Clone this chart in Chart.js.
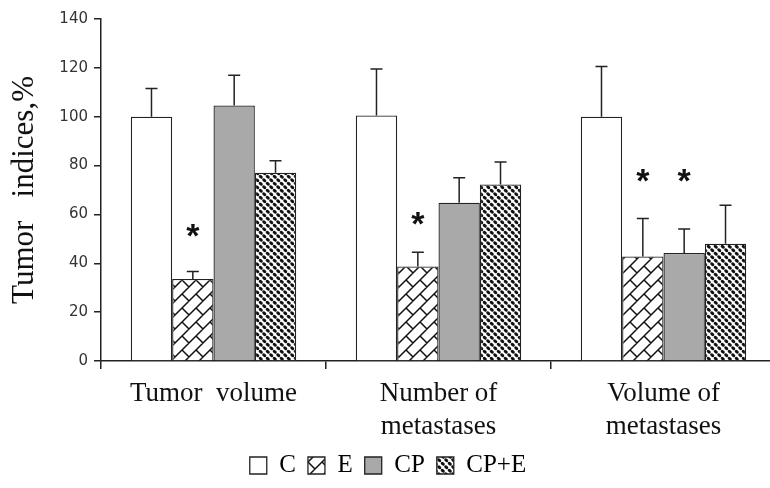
<!DOCTYPE html>
<html>
<head>
<meta charset="utf-8">
<script src="https://cdn.jsdelivr.net/npm/chart.js@4.4.1/dist/chart.umd.min.js"></script>
<style>
html,body{margin:0;padding:0;background:#fff;overflow:hidden;}
#wrap{width:780px;height:488px;}
</style>
</head>
<body>
<div id="wrap"><canvas id="c" width="780" height="488"></canvas></div>
<script>
// ---- data ----
const categories = [["Tumor  volume"], ["Number of", "metastases"], ["Volume of", "metastases"]];
const seriesNames = ["C", "E", "CP", "CP+E"];
const valuesC   = [100, 100.5, 100];
const valuesE   = [33.6, 38.7, 42.8];
const valuesCP  = [104.6, 64.8, 44.2];
const valuesCPE = [77.1, 72.3, 48.0];
const errC   = [11.5, 19, 20.6];
const errE   = [3, 5.8, 15.5];
const errCP  = [12.4, 10.2, 9.8];
const errCPE = [4.9, 9.2, 15.8];
const starsE  = [52, 57, 74.8];
const starsCP = [null, null, 74.8];
const yTicks = [0, 20, 40, 60, 80, 100, 120, 140];

// ---- patterns ----
function brickPattern() {
  const T = 14, h = T / Math.SQRT2;
  const c = document.createElement('canvas'); c.width = T; c.height = T;
  const x = c.getContext('2d');
  x.fillStyle = '#fff'; x.fillRect(0, 0, T, T);
  x.strokeStyle = '#111'; x.lineWidth = 1.5;
  x.translate(0, T);
  x.rotate(-Math.PI / 4);
  x.beginPath();
  for (let k = -10; k <= 10; k++) {
    x.moveTo(-100, k * h); x.lineTo(100, k * h);
    for (let j = -10; j <= 10; j++) {
      const xx = j * 2 * h + ((k % 2 + 2) % 2 ? h : 0);
      x.moveTo(xx, k * h); x.lineTo(xx, (k + 1) * h);
    }
  }
  x.stroke();
  return x.createPattern(c, 'repeat');
}
function dotPattern() {
  const T = 7;
  const c = document.createElement('canvas'); c.width = T; c.height = T;
  const x = c.getContext('2d');
  x.fillStyle = '#fff'; x.fillRect(0, 0, T, T);
  x.fillStyle = '#111';
  const blobs = [[1.75, 1.75], [5.25, 5.25]];
  for (const [bx, by] of blobs) {
    for (const dx of [-T, 0, T]) for (const dy of [-T, 0, T]) {
      x.beginPath(); x.ellipse(bx + dx, by + dy, 2.2, 1.5, 0.7, 0, Math.PI * 2); x.fill();
    }
  }
  return x.createPattern(c, 'repeat');
}
const fills = ['#ffffff', brickPattern(), '#a9a9a9', dotPattern()];

const errs = [errC, errE, errCP, errCPE];
const stars = [null, starsE, starsCP, null];

const errorBarPlugin = {
  id: 'errbars',
  afterDatasetsDraw(chart) {
    const ctx = chart.ctx, ys = chart.scales.y;
    ctx.save();
    chart.data.datasets.forEach((ds, di) => {
      const meta = chart.getDatasetMeta(di);
      meta.data.forEach((bar, i) => {
        const v = ds.data[i], e = errs[di][i];
        const y0 = ys.getPixelForValue(v), y1 = ys.getPixelForValue(v + e);
        ctx.strokeStyle = '#222'; ctx.lineWidth = 1.5;
        ctx.beginPath();
        ctx.moveTo(bar.x, y0); ctx.lineTo(bar.x, y1);
        ctx.moveTo(bar.x - 6, y1); ctx.lineTo(bar.x + 6, y1);
        ctx.stroke();
        const s = stars[di] && stars[di][i];
        if (s != null) {
          ctx.fillStyle = '#111';
          ctx.font = 'bold 34px "Liberation Sans"';
          ctx.textAlign = 'center'; ctx.textBaseline = 'middle';
          ctx.fillText('*', bar.x, ys.getPixelForValue(s) + 4);
        }
      });
    });
    ctx.restore();
  }
};

const datasets = seriesNames.map((n, i) => ({
  label: n,
  data: [valuesC, valuesE, valuesCP, valuesCPE][i],
  backgroundColor: fills[i],
  borderColor: '#222',
  borderWidth: 1.3,
  borderSkipped: 'bottom',
  categoryPercentage: 0.735,
  barPercentage: 1.0
}));

new Chart(document.getElementById('c'), {
  type: 'bar',
  data: { labels: categories, datasets },
  options: {
    responsive: false,
    animation: false,
    devicePixelRatio: 1,
    layout: { padding: { top: 19, right: 4, bottom: 0, left: 0 } },
    plugins: {
      legend: {
        position: 'bottom',
        labels: {
          color: '#111',
          font: { family: '"Liberation Serif"', size: 25 },
          boxWidth: 17, boxHeight: 17, padding: 12,
          generateLabels(chart) {
            return chart.data.datasets.map((d, i) => ({
              text: d.label, fillStyle: d.backgroundColor, strokeStyle: '#222',
              lineWidth: 1.3, datasetIndex: i, hidden: false
            }));
          }
        }
      },
      tooltip: { enabled: false }
    },
    scales: {
      x: {
        grid: { drawOnChartArea: false, tickLength: 8, color: '#222', lineWidth: 1.5, offset: true },
        border: { color: '#222', width: 1.5 },
        ticks: { color: '#111', font: { family: '"Liberation Serif"', size: 27, lineHeight: 1.2 }, padding: 9, maxRotation: 0 },
        afterFit(s) { s.height = 80; }
      },
      y: {
        min: 0, max: 140,
        afterBuildTicks(s) { s.ticks = yTicks.map(v => ({ value: v })); },
        grid: { drawOnChartArea: false, tickLength: 7, color: '#222', lineWidth: 1.5 },
        border: { color: '#222', width: 1.5 },
        ticks: { color: '#333', font: { family: '"DejaVu Sans"', size: 15 }, padding: 6 },
        title: { display: true, text: 'Tumor   indices,%', color: '#111', font: { family: '"Liberation Serif"', size: 31 }, padding: { top: 6, bottom: 0 } },
        afterFit(s) { s.width = 101; }
      }
    }
  },
  plugins: [errorBarPlugin]
});
</script>
</body>
</html>
